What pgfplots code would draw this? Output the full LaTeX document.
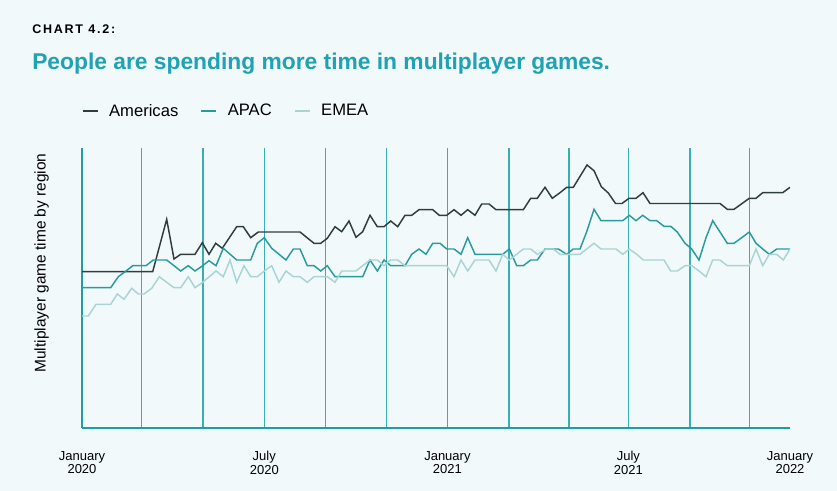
\documentclass[border=0pt]{standalone}
\usepackage{pgfplots}
\pgfplotsset{compat=1.18}
\usepackage{fontspec}
\setmainfont{Liberation Sans}
\definecolor{bg}{HTML}{F2F9FB}
\definecolor{titlecol}{HTML}{1FA2B2}
\definecolor{gridcol}{HTML}{3AAFB0}
\definecolor{axiscol}{HTML}{1E9EA2}
\definecolor{amer}{HTML}{2E3D3F}
\definecolor{apac}{HTML}{2A9A9C}
\definecolor{emea}{HTML}{AAD4D4}
\begin{document}
\begin{tikzpicture}[x=0.75pt,y=0.75pt]
\fill[bg] (0,0) rectangle (837,491);
\begin{axis}[
 at={(61.5pt,47.25pt)}, anchor=south west,
 scale only axis, width=531pt, height=210pt,
 xmin=82, xmax=790, ymin=0, ymax=280,
 axis x line*=bottom, axis y line*=left,
 axis line style={axiscol, line width=1.9pt, -},
 xtick={82,141.5,202.9,264.3,325.7,386.5,447.4,508.8,569.1,628.4,689.8,749.6},
 xticklabels={},
 ytick=\empty,
 major tick length=0pt,
 xmajorgrids,
 grid style={gridcol, line width=1.1pt},
 extra x ticks={82,264.3,447.4,628.4,790},
 extra x tick labels={January\\2020,July\\2020,January\\2021,July\\2021,January\\2022},
 extra x tick style={grid=none, major tick length=0pt},
 x tick label style={align=center, font=\fontsize{9.75}{10.2}\selectfont, yshift=-14pt},
 legend style={at={(0,1.132)}, anchor=west, draw=none, fill=none, legend columns=3,
   font=\fontsize{12.45}{14}\selectfont, inner sep=0pt, outer sep=0pt,
   /tikz/every even column/.append style={column sep=14.75pt}},
 legend image code/.code={\draw[#1] (0pt,0pt) -- (11.25pt,0pt); \path (17.25pt,0pt);},
]
\addplot[amer, line width=1.1pt] coordinates {
(82,156.3) (152.7,156.3) (166.7,208.7) (174,169) (180.7,173.7) (195,173.7) (202.3,185.3) (209,173.7) (215.7,184.7) (222.3,179.7) (236.7,201.3) (243.3,201.3) (250.7,190.3) (258.3,196) (300,196) (314,184.7) (320.7,184.7) (327.3,189.7) (335,201.3) (341.7,196.3) (349,207) (356,190.7) (362.7,196.3) (370,212.7) (377.3,201.3) (384,201.3) (390.7,207) (397.7,201.3) (405,212.7) (411.7,212.7) (419,218.3) (432.7,218.3) (439.3,212.7) (446.7,212.7) (454,218.3) (461,212.7) (467.7,218.3) (475,212.7) (481.7,224) (489,224) (496,218.3) (523.3,218.3) (530.7,229.7) (537.3,229.7) (545,240.7) (552.3,229.7) (560,235.3) (566.7,240.7) (573.3,240.7) (587,263) (594,257.3) (601.3,241.3) (608.3,235) (615.5,224.5) (622,224.5) (629,229.7) (636,229.7) (643,235.3) (650,224.5) (720,224.5) (727.3,218.7) (734,218.7) (749.3,229.7) (756,229.7) (762.7,235.3) (782.7,235.3) (790,240.7)
};
\addlegendentry{Americas}
\addplot[apac, line width=1.1pt] coordinates {
(82,140.3) (110.7,140.3) (118.3,151.3) (126,157) (132.7,162.3) (146,162.3) (153.3,168) (166.7,168) (174,162.3) (180.7,157) (188.3,162.3) (195,157) (202.7,162.3) (209,167.3) (216,162.3) (223.3,179.7) (236.7,168) (250.7,168) (257.3,184.7) (264.3,190.3) (271.7,179.7) (286,168) (293.3,179) (300,179) (307.3,162.3) (314,162.3) (320.7,157) (327.3,162.3) (335,151.3) (362.7,151.3) (370,168) (377.3,157) (384,168) (390.7,162.3) (405,162.3) (411.7,173.7) (419,179) (426,173.7) (432.7,184.7) (440,184.7) (446.7,179) (454,179) (461,173.7) (467.7,190.3) (475,173.7) (502.7,173.7) (509.3,179) (516.7,162.3) (523.3,162.3) (530.7,168) (537.3,168) (545,179) (558.3,179) (566.7,173.7) (573.3,179) (580,179) (586.7,196.3) (594,218.7) (601,207.3) (622.7,207.3) (629.3,212.7) (636,207.3) (642.7,212.7) (650,207.3) (656.7,207.3) (664,201.7) (670.7,201.7) (677.3,196) (685,184.7) (691.7,179) (699,168) (706,190.3) (712.7,207.3) (720,196) (727.3,184.7) (734,184.7) (741.7,190.3) (749.3,196) (756,184.7) (762.7,179) (769.3,173.7) (776.7,179) (790,179)
};
\addlegendentry{APAC}
\addplot[emea, line width=1.1pt] coordinates {
(82,112) (88.3,112) (96,123.7) (110.7,123.7) (117.3,134) (124,128.7) (131.7,139.7) (138.3,134) (144,134) (151.7,139.7) (159.3,151.3) (166.7,145.7) (174,140.3) (180.7,140.3) (188.3,151.3) (195,140.3) (202.7,145.7) (209.3,151.3) (216,157) (223.3,151.3) (230,168) (236.7,145.7) (244,162.3) (250.7,151.3) (257.3,151.3) (264.3,157) (271.7,162.3) (279,145.7) (286,157) (293.3,151.3) (300,151.3) (307.3,145.7) (314,151.3) (327.3,151.3) (335,145.7) (341.7,157) (356,157) (370,168) (377.3,168) (384,162.3) (390.7,168) (397.7,168) (405,162.3) (446.7,162.3) (454,151.3) (461,168) (467.7,157) (475,168) (489,168) (496,157) (502.7,173.7) (509.3,168) (516.7,173.7) (523.3,179) (530.7,179) (537.3,173.7) (546.7,179) (553.3,179) (560,173.7) (580,173.7) (594,184.7) (601,179) (616,179) (622.7,173.7) (629.3,179) (636.7,173.7) (643.3,168) (664,168) (670.7,157) (677.3,157) (685,162.3) (691.7,162.3) (699,157) (706,151.3) (712.7,168) (720,168) (727.3,162.3) (749.3,162.3) (756,179) (762.7,162.3) (769.3,173.7) (776.7,173.7) (783.3,168) (790,179)
};
\addlegendentry{EMEA}
\end{axis}
\node[anchor=base west, inner sep=0pt, font=\bfseries\fontsize{9.4}{11}\selectfont\addfontfeatures{LetterSpace=14}] at (32,457) {CHART 4.2:};
\node[anchor=base west, inner sep=0pt, text=titlecol, font=\bfseries\fontsize{17.1}{20}\selectfont] at (32,421) {People are spending more time in multiplayer games.};
\node[rotate=90, inner sep=0pt, font=\fontsize{11.6}{14}\selectfont] at (41.7,228) {Multiplayer game time by region};
\end{tikzpicture}
\end{document}
